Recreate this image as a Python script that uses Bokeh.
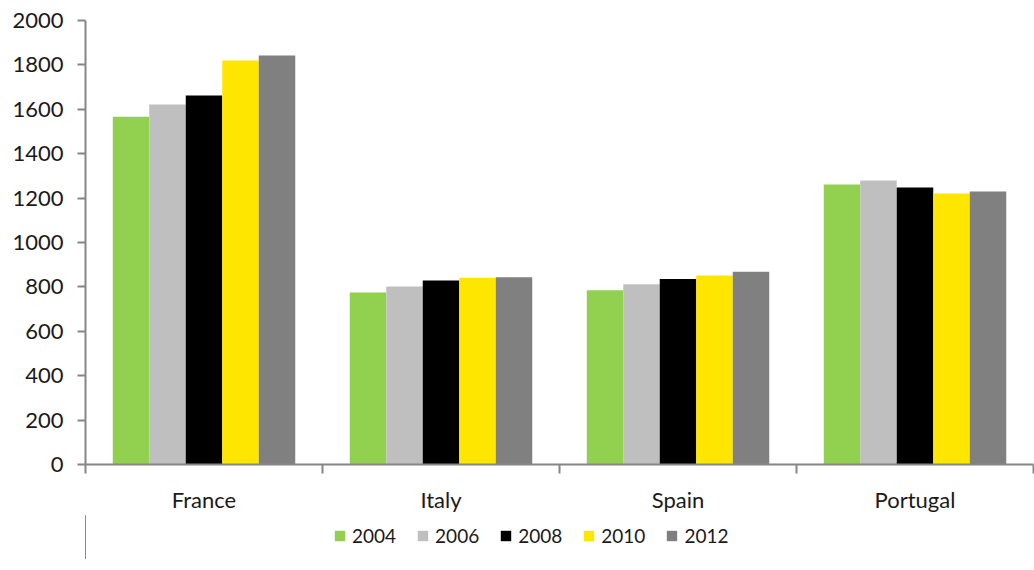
from bokeh.plotting import figure
from bokeh.models import FixedTicker, Legend, LegendItem, Range1d
from bokeh.layouts import column
from bokeh.embed import file_html
from bokeh.resources import INLINE

countries = ["France", "Italy", "Spain", "Portugal"]
years = ["2004", "2006", "2008", "2010", "2012"]
v2004 = [1567, 775, 785, 1261]
v2006 = [1622, 802, 812, 1279]
v2008 = [1662, 829, 836, 1248]
v2010 = [1820, 841, 851, 1221]
v2012 = [1842, 843, 868, 1230]
series = [v2004, v2006, v2008, v2010, v2012]
colors = ["#92D050", "#BFBFBF", "#000000", "#FFE600", "#808080"]

FONT = "Lato"
TXT = "#1a1a1a"
AX = "#868686"

p = figure(frame_width=948, frame_height=444,
           output_backend="svg", toolbar_location=None,
           x_range=Range1d(0, len(countries)), y_range=Range1d(0, 2000),
           min_border_left=85, min_border_right=1, min_border_top=20,
           min_border_bottom=0)
p.outline_line_color = None
p.xgrid.visible = False
p.ygrid.visible = False
p.background_fill_color = "white"
p.border_fill_color = "white"

# legend strip below the chart (its own small plot, same bar data)
q = figure(width=1034, height=44, output_backend="svg", toolbar_location=None,
           x_range=Range1d(100, 101), y_range=Range1d(100, 101),
           x_axis_type=None, y_axis_type=None,
           min_border_left=0, min_border_right=0, min_border_top=0,
           min_border_bottom=0)
q.outline_line_color = None
q.xgrid.visible = False
q.ygrid.visible = False
q.background_fill_color = "white"
q.border_fill_color = "white"

bw = 0.154
items = []
for j, (vals, col, yr) in enumerate(zip(series, colors, years)):
    xs = [i + 0.5 + (j - 2) * bw for i in range(len(countries))]
    p.vbar(x=xs, top=vals, width=bw, bottom=0, fill_color=col, line_color=None)
    r = q.vbar(x=xs, top=vals, width=bw, bottom=0, fill_color=col, line_color=None)
    items.append(LegendItem(label=yr, renderers=[r]))

# y axis
ya = p.yaxis[0]
ya.ticker = FixedTicker(ticks=list(range(0, 2001, 200)))
ya.bounds = (0, 2000)
ya.major_tick_out = 8
ya.major_tick_in = 0
ya.minor_tick_out = 0
ya.minor_tick_in = 0
ya.axis_line_color = AX
ya.major_tick_line_color = AX
ya.axis_line_width = 2
ya.major_tick_line_width = 2
ya.major_label_text_font = FONT
ya.major_label_text_font_size = "22px"
ya.major_label_text_color = TXT
ya.major_label_standoff = 14

# x axis: labels at centers, ticks at boundaries
xa = p.xaxis[0]
centers = [i + 0.5 for i in range(len(countries))]
xa.ticker = FixedTicker(ticks=centers, minor_ticks=list(range(len(countries) + 1)))
xa.major_label_overrides = {c: n for c, n in zip(centers, countries)}
xa.major_tick_out = 0
xa.major_tick_in = 0
xa.minor_tick_out = 9
xa.minor_tick_in = 0
xa.axis_line_color = AX
xa.minor_tick_line_color = AX
xa.axis_line_width = 2
xa.minor_tick_line_width = 2
xa.major_label_text_font = FONT
xa.major_label_text_font_size = "22px"
xa.major_label_text_color = TXT
xa.major_label_standoff = 12

legend = Legend(items=items, orientation="horizontal", location=(248, 12),
                glyph_width=13, glyph_height=13, label_standoff=6, spacing=20,
                label_text_font=FONT, label_text_font_size="19px",
                label_text_color=TXT, border_line_color=None,
                background_fill_alpha=0, padding=0, margin=0)
q.add_layout(legend, "center")

layout = column(p, q, spacing=0)
open("out.html", "w").write(file_html(layout, INLINE))
